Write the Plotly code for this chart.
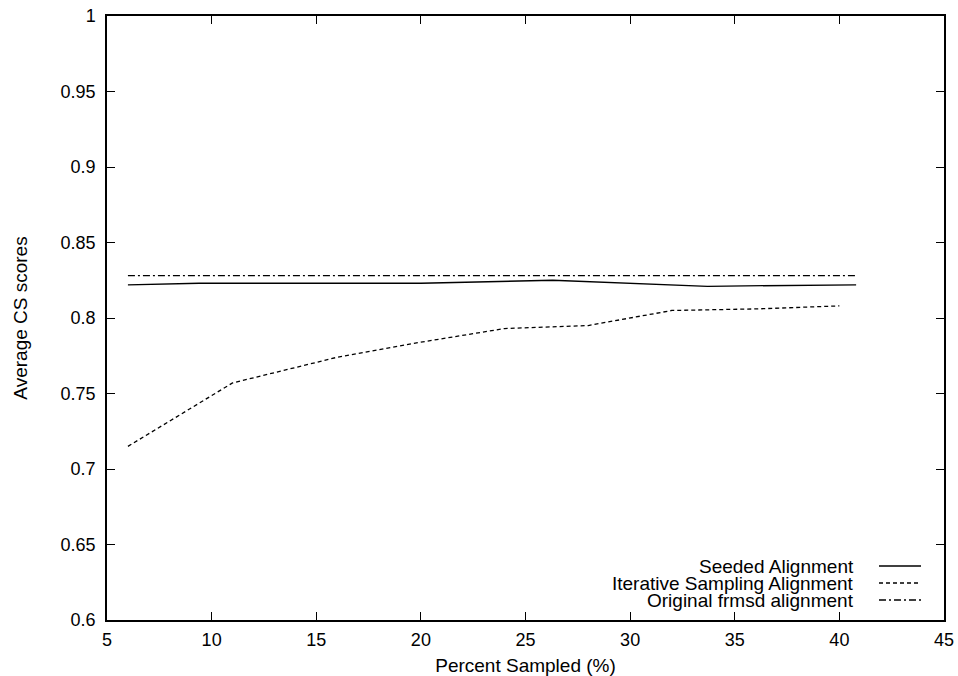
import plotly.graph_objects as go

# Data
seeded_x = [6.0, 9.4, 20.0, 26.3, 33.7, 40.8]
seeded_y = [0.822, 0.823, 0.823, 0.825, 0.821, 0.822]

iter_x = [6, 11, 16, 20, 24, 28, 32, 36, 40]
iter_y = [0.715, 0.757, 0.774, 0.784, 0.793, 0.795, 0.805, 0.806, 0.808]

orig_x = [6.0, 40.8]
orig_y = [0.828, 0.828]

x_ticks = [5, 10, 15, 20, 25, 30, 35, 40, 45]
y_ticks = [0.6, 0.65, 0.7, 0.75, 0.8, 0.85, 0.9, 0.95, 1.0]
y_tick_text = ["0.6", "0.65", "0.7", "0.75", "0.8", "0.85", "0.9", "0.95", "1"]

names = ["Seeded Alignment", "Iterative Sampling Alignment", "Original frmsd alignment"]
dashes = ["solid", "4px,3px", "7px,3px,2px,3px"]

FONT = "Liberation Sans, Arial, sans-serif"
FS_TICK = 18
FS = 19

fig = go.Figure()
for xs, ys, nm, ds in zip([seeded_x, iter_x, orig_x], [seeded_y, iter_y, orig_y], names, dashes):
    fig.add_trace(go.Scatter(x=xs, y=ys, mode="lines", name=nm,
                             line=dict(color="black", width=1.3, dash=ds),
                             showlegend=False, cliponaxis=False, hoverinfo="skip"))

# gnuplot-style legend (text right-aligned, sample on the right), inside bottom-right
W, H = 958, 676
ml, mr, mt, mb = 107, 14, 16, 56
pw, ph = W - ml - mr, H - mt - mb
def px(xp):
    return (xp - ml) / pw
def py(yp):
    return 1 - (yp - mt) / ph

rows_y = [566, 583, 600]
for nm, ds, ry in zip(names, dashes, rows_y):
    fig.add_annotation(x=px(856), y=py(ry), xref="paper", yref="paper",
                       text=nm, showarrow=False, xanchor="right", yanchor="middle",
                       font=dict(family=FONT, size=FS, color="black"))
    fig.add_shape(type="line", xref="paper", yref="paper",
                  x0=px(879), x1=px(921), y0=py(ry), y1=py(ry),
                  line=dict(color="black", width=1.3, dash=ds))

axis_common = dict(showline=True, linecolor="black", linewidth=1.5, mirror="allticks",
                   ticks="inside", ticklen=8, tickwidth=1.2, tickcolor="black",
                   showgrid=False, zeroline=False, automargin=False,
                   tickfont=dict(family=FONT, size=FS_TICK, color="black"),
                   title_font=dict(family=FONT, size=FS, color="black"))

fig.update_xaxes(range=[5, 45], tickvals=x_ticks, ticktext=[str(v) for v in x_ticks],
                 ticklabelstandoff=3,
                 title_text="Percent Sampled (%)", title_standoff=14, **axis_common)
fig.update_yaxes(range=[0.6, 1.0], tickvals=y_ticks, ticktext=y_tick_text,
                 ticklabelstandoff=6,
                 title_text="Average CS scores", title_standoff=28, **axis_common)

fig.update_layout(width=W, height=H, margin=dict(l=ml, r=mr, t=mt, b=mb),
                  paper_bgcolor="white", plot_bgcolor="white",
                  font=dict(family=FONT, size=FS, color="black"))

fig.write_html("out.html", config={"displayModeBar": False},
               post_script="document.body.style.margin='0';document.body.style.padding='0';")
